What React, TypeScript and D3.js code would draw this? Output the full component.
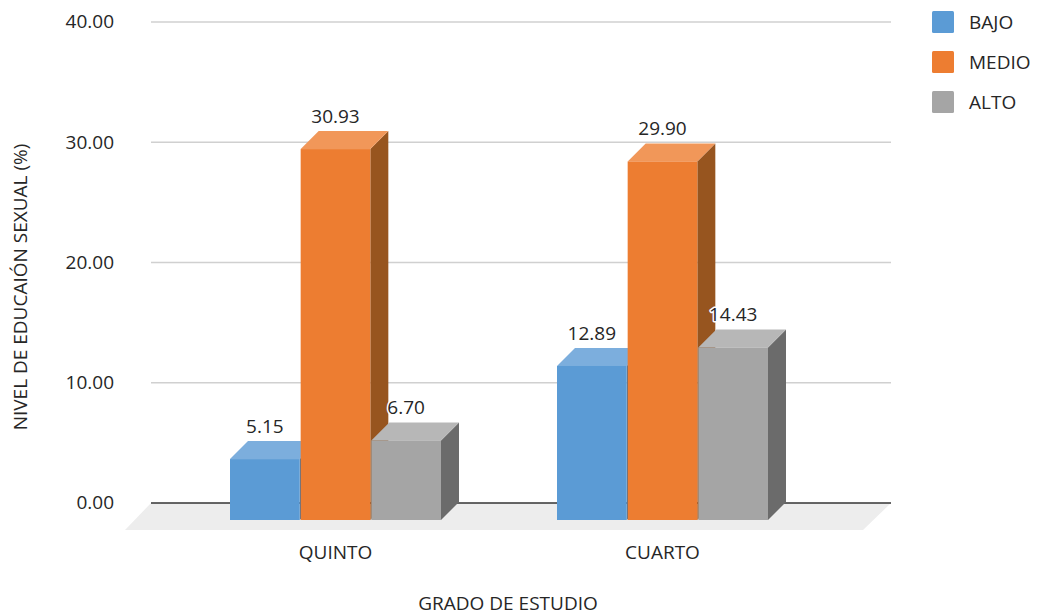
import React from "react";
import * as d3 from "d3";

// Survey results by school grade
const categories = ["QUINTO", "CUARTO"];
const seriesNames = ["BAJO", "MEDIO", "ALTO"];
const bajoValues = [5.15, 12.89];
const medioValues = [30.93, 29.9];
const altoValues = [6.7, 14.43];
const yTicks = [0, 10, 20, 30, 40];

const frontColors = ["#5B9BD5", "#ED7D31", "#A5A5A5"];
const topColors = ["#7CAEDD", "#F19759", "#B7B7B7"];
const sideColors = ["#3F6F9B", "#97551F", "#6B6B6B"];

const FONT = "'Open Sans', sans-serif";
const INK = "#262626";
const FONT_SIZE = 19;

const WIDTH = 1037;
const HEIGHT = 616;
const DEPTH = 18;

export default function App() {
  const y = d3.scaleLinear().domain([0, 40]).range([503, 22]);
  const x0 = d3.scaleBand<string>().domain(categories).range([172, 826]);
  const x1 = d3.scaleBand<string>().domain(seriesNames).range([58, 270]);
  const values = [bajoValues, medioValues, altoValues];
  const base = y(0);
  const floor = d3.line()([
    [151, base],
    [891, base],
    [863, base + 27],
    [125, base + 27],
  ]) + "Z";

  const bars = categories.flatMap((c, ci) =>
    seriesNames.map((s, si) => {
      const left = (x0(c) as number) + (x1(s) as number);
      const w = (x1.bandwidth() as number) - 1;
      const v = values[si][ci];
      return { key: c + s, si, v, left, right: left + w, top: y(v) + DEPTH, bottom: base + DEPTH - 1 };
    })
  );

  return (
    <svg
      width={WIDTH}
      height={HEIGHT}
      viewBox={`0 0 ${WIDTH} ${HEIGHT}`}
      style={{ position: "absolute", left: 0, top: 0, background: "#fff" }}
      fontFamily={FONT}
      fontSize={FONT_SIZE}
      fill={INK}
    >
      {yTicks.filter((t) => t > 0).map((t) => (
        <line key={t} x1={151} x2={891} y1={y(t)} y2={y(t)} stroke="#D0D0D0" strokeWidth={1.5} />
      ))}
      <path d={floor} fill="#EDEDED" />
      <line x1={151} x2={891} y1={base} y2={base} stroke="#333333" strokeWidth={1.5} />

      {yTicks.map((t) => (
        <text key={t} x={114} y={y(t) - 0.5} dy="0.36em" textAnchor="end">
          {t.toFixed(2)}
        </text>
      ))}

      {bars.map((b) => (
        <g key={b.key}>
          <path
            d={d3.line()([
              [b.right, b.top],
              [b.right + DEPTH, b.top - DEPTH],
              [b.right + DEPTH, b.bottom - DEPTH],
              [b.right, b.bottom],
            ]) + "Z"}
            fill={sideColors[b.si]}
          />
          <path
            d={d3.line()([
              [b.left, b.top],
              [b.left + DEPTH, b.top - DEPTH],
              [b.right + DEPTH, b.top - DEPTH],
              [b.right, b.top],
            ]) + "Z"}
            fill={topColors[b.si]}
          />
          <rect x={b.left} y={b.top} width={b.right - b.left} height={b.bottom - b.top} fill={frontColors[b.si]} />
        </g>
      ))}

      {bars.map((b) => (
        <text
          key={b.key}
          x={(b.left + b.right) / 2}
          y={b.top - DEPTH - 15}
          dy="0.36em"
          textAnchor="middle"
          stroke="#fff"
          strokeWidth={3}
          strokeLinejoin="round"
          paintOrder="stroke"
        >
          {b.v.toFixed(2)}
        </text>
      ))}

      {categories.map((c) => (
        <text
          key={c}
          x={(x0(c) as number) + x0.bandwidth() / 2}
          y={552}
          dy="0.36em"
          textAnchor="middle"
        >
          {c}
        </text>
      ))}

      <text x={508} y={603.4} dy="0.36em" textAnchor="middle">
        GRADO DE ESTUDIO
      </text>
      <text transform="translate(20,287) rotate(-90)" dy="0.36em" textAnchor="middle">
        NIVEL DE EDUCAIÓN SEXUAL (%)
      </text>

      {seriesNames.map((s, i) => (
        <g key={s} transform={`translate(932,${11 + i * 40})`}>
          <rect width={22} height={22} rx={1.5} fill={frontColors[i]} />
          <text x={37} y={11} dy="0.36em">
            {s}
          </text>
        </g>
      ))}
    </svg>
  );
}
